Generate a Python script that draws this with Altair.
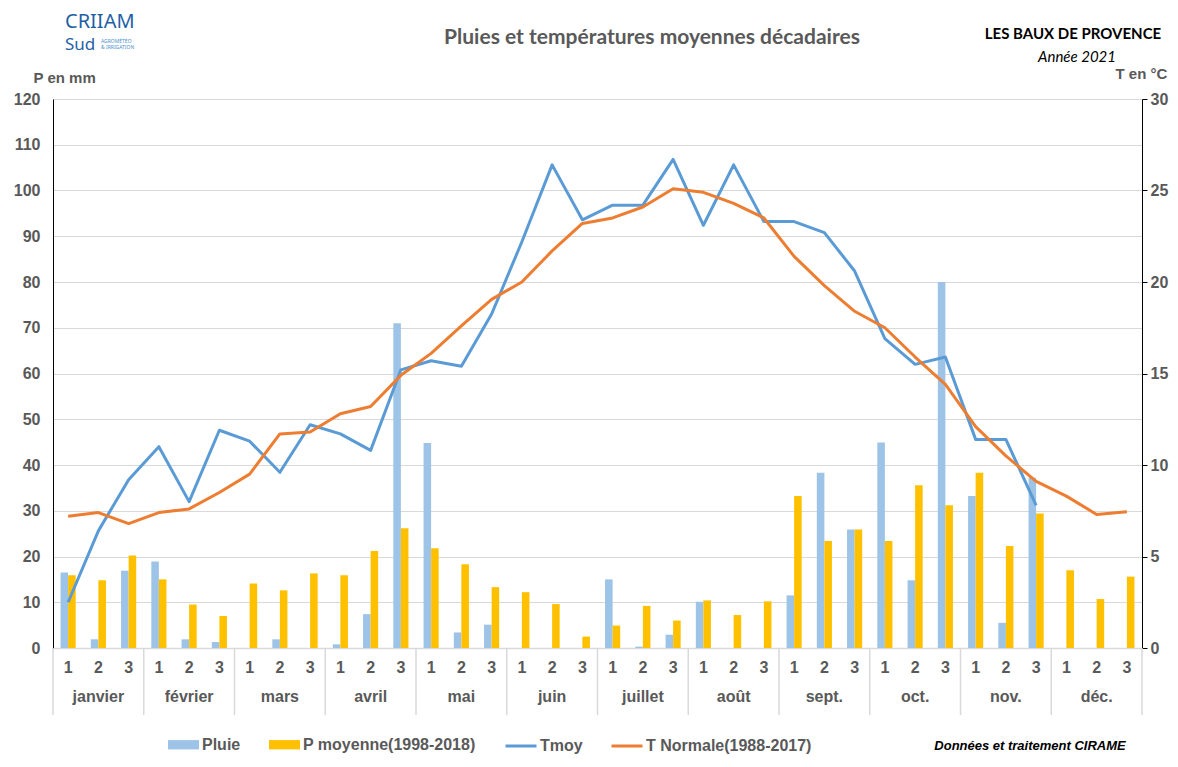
import altair as alt
import pandas as pd

# ---------------- data ----------------
months = ["janvier", "février", "mars", "avril", "mai", "juin",
          "juillet", "août", "sept.", "oct.", "nov.", "déc."]
decade_nums = ["1", "2", "3"]

pluie = [16.5, 1.9, 16.9, 18.9, 1.9, 1.3, 0.0, 1.9, 0.0, 0.8, 7.4, 71.0,
         44.8, 3.4, 5.1, 0.0, 0.0, 0.0, 15.0, 0.3, 2.9, 10.1, 0.0, 0.0,
         11.5, 38.3, 25.9, 44.9, 14.8, 80.0, 33.2, 5.5, 37.2, 0.0, 0.0, 0.0]
p_moy = [15.9, 14.8, 20.2, 15.0, 9.5, 7.0, 14.1, 12.6, 16.3, 15.9, 21.2, 26.2,
         21.8, 18.3, 13.3, 12.2, 9.6, 2.5, 4.9, 9.2, 6.0, 10.4, 7.2, 10.2,
         33.2, 23.4, 25.9, 23.4, 35.6, 31.2, 38.3, 22.3, 29.4, 17.0, 10.7, 15.6]
tmoy = [2.5, 6.4, 9.2, 11.0, 8.0, 11.9, 11.3, 9.6, 12.2, 11.7, 10.8, 15.2,
        15.7, 15.4, 18.25, 22.2, 26.4, 23.4, 24.2, 24.2, 26.7, 23.1, 26.4, 23.3,
        23.3, 22.7, 20.6, 16.9, 15.5, 15.9, 11.4, 11.4, 7.8, None, None, None]
t_norm = [7.2, 7.4, 6.8, 7.4, 7.6, 8.5, 9.5, 11.7, 11.8, 12.8, 13.2, 14.9,
          16.1, 17.6, 19.05, 20.0, 21.7, 23.2, 23.5, 24.1, 25.1, 24.9, 24.3, 23.5,
          21.4, 19.8, 18.4, 17.5, 15.9, 14.4, 12.1, 10.5, 9.1, 8.3, 7.3, 7.45]

bar_series = ["Pluie", "P moyenne(1998-2018)"]
line_series = ["Tmoy", "T Normale(1988-2017)"]
bar_colors = ["#9DC3E6", "#FFC000"]
line_colors = ["#5B9BD5", "#ED7D31"]

keys = [f"{m + 1:02d}-{d}" for m in range(12) for d in decade_nums]

bars_df = pd.DataFrame(
    [{"key": k, "series": bar_series[0], "value": v} for k, v in zip(keys, pluie)]
    + [{"key": k, "series": bar_series[1], "value": v} for k, v in zip(keys, p_moy)]
)
lines_df = pd.DataFrame(
    [{"key": k, "series": line_series[0], "value": v} for k, v in zip(keys, tmoy)]
    + [{"key": k, "series": line_series[1], "value": v} for k, v in zip(keys, t_norm)]
)
month_df = pd.DataFrame({"key": [f"{m + 1:02d}-2" for m in range(12)], "month": months})
sep_df = pd.DataFrame({"key": [f"{m + 1:02d}-1" for m in range(12)]})
sep_end_df = pd.DataFrame({"key": ["12-3"]})

W, H = 1089, 549
STEP = W / 36.0
GRAY = "#595959"
LIGHT = "#D9D9D9"
AX_FONT = "Liberation Sans"
TITLE_FONT = "Lato"

x_scale = alt.Scale(domain=keys, paddingInner=0.5, paddingOuter=0.25)

x_enc = alt.X(
    "key:O",
    scale=x_scale,
    sort=keys,
    axis=alt.Axis(
        title=None, labelExpr="slice(datum.value, -1)", labelAngle=0,
        ticks=False, labelPadding=11, labelFont=AX_FONT, labelFontSize=16,
        labelFontWeight="bold", labelColor=GRAY, domainColor=LIGHT, domainWidth=1.5,
        grid=False,
    ),
)

bars = alt.Chart(bars_df).mark_bar().encode(
    x=x_enc,
    xOffset=alt.XOffset("series:N", sort=bar_series, scale=alt.Scale(domain=bar_series)),
    y=alt.Y(
        "value:Q",
        scale=alt.Scale(domain=[0, 120]),
        axis=alt.Axis(
            values=list(range(0, 121, 10)), ticks=False, labelPadding=13,
            labelFont=AX_FONT, labelFontSize=16, labelFontWeight="bold", labelColor=GRAY,
            domainColor="#000000", domainWidth=1, gridColor=LIGHT, gridWidth=1.2,
            title="P en mm", titleAngle=0, titleX=-20, titleY=-22, titleAlign="left",
            titleBaseline="middle", titleFont=AX_FONT, titleFontSize=15,
            titleFontWeight="bold", titleColor=GRAY,
        ),
    ),
    color=alt.Color(
        "series:N",
        scale=alt.Scale(domain=bar_series, range=bar_colors),
        legend=alt.Legend(
            title=None, orient="none", legendX=115, legendY=630, direction="horizontal",
            symbolType="M-1,-0.3H1V0.3H-1Z", symbolSize=961, symbolStrokeWidth=0,
            labelFont=AX_FONT, labelFontSize=16, labelFontWeight="bold",
            labelColor=GRAY, labelOffset=3, columnPadding=28, labelLimit=400,
        ),
    ),
)

lines = alt.Chart(lines_df).mark_line(strokeWidth=3, strokeJoin="round").encode(
    x=alt.X("key:O", scale=x_scale, sort=keys),
    y=alt.Y(
        "value:Q",
        scale=alt.Scale(domain=[0, 30]),
        axis=alt.Axis(
            orient="right", values=list(range(0, 31, 5)), grid=False,
            tickColor="#000000", tickSize=5, domainColor="#000000", labelPadding=3,
            labelFont=AX_FONT, labelFontSize=16, labelFontWeight="bold", labelColor=GRAY,
            title="T en °C", titleAngle=0, titleX=-27, titleY=-26, titleAlign="left",
            titleBaseline="middle", titleFont=AX_FONT, titleFontSize=15,
            titleFontWeight="bold", titleColor=GRAY,
        ),
    ),
    stroke=alt.Stroke(
        "series:N",
        scale=alt.Scale(domain=line_series, range=line_colors),
        legend=alt.Legend(
            title=None, orient="none", legendX=451, legendY=630, direction="horizontal",
            symbolType="stroke", symbolSize=961, symbolStrokeWidth=3,
            labelFont=AX_FONT, labelFontSize=16, labelFontWeight="bold",
            labelColor=GRAY, labelOffset=2, columnPadding=22, labelLimit=400,
        ),
    ),
)

month_text = alt.Chart(month_df).mark_text(
    font=AX_FONT, fontSize=16, fontWeight="bold", color=GRAY, baseline="middle"
).encode(x=alt.X("key:O", scale=x_scale, sort=keys), y=alt.value(598), text="month:N")

seps = alt.Chart(sep_df).mark_rule(color=LIGHT, strokeWidth=1.5, xOffset=-STEP / 2).encode(
    x=alt.X("key:O", scale=x_scale, sort=keys), y=alt.value(H), y2=alt.value(616)
)
sep_end = alt.Chart(sep_end_df).mark_rule(color=LIGHT, strokeWidth=1.5, xOffset=STEP / 2).encode(
    x=alt.X("key:O", scale=x_scale, sort=keys), y=alt.value(H), y2=alt.value(616)
)

one = pd.DataFrame({"a": [0]})


def label(txt, x, y, **kw):
    return alt.Chart(one).mark_text(text=txt, **kw).encode(x=alt.value(x), y=alt.value(y))


title = label("Pluies et températures moyennes décadaires", 599, -61,
              font=TITLE_FONT, fontSize=21, fontWeight="bold", color=GRAY)
station = label("LES BAUX DE PROVENCE", 1020, -65,
                font=TITLE_FONT, fontSize=15, fontWeight="bold", color="#000000")
year = label("Année 2021", 1024, -42,
             font=TITLE_FONT, fontSize=15, fontStyle="italic", color="#000000")
credit = label("Données et traitement CIRAME", 977, 647,
               font=AX_FONT, fontSize=13, fontStyle="italic", fontWeight="bold", color="#000000")
logo1 = label("CRIIAM", 12, -77, font="Noto Sans", fontSize=20, color="#1F5FA6",
              align="left", baseline="middle")
logo2 = label("Sud", 12, -54, font="Noto Sans", fontSize=17, color="#1F5FA6",
              align="left", baseline="middle")
logo3 = label("AGROMÉTÉO", 48, -58, font="Noto Sans", fontSize=5, color="#4A90D0",
              align="left", baseline="middle")
logo4 = label("& IRRIGATION", 48, -52, font="Noto Sans", fontSize=5, color="#4A90D0",
              align="left", baseline="middle")

chart = alt.layer(
    bars, seps, sep_end, month_text, lines,
    title, station, year, credit, logo1, logo2, logo3, logo4,
).resolve_scale(
    y="independent"
).properties(
    width=W, height=H,
    autosize=alt.AutoSizeParams(type="none"),
    padding={"left": 45, "top": 91, "right": 28, "bottom": 110},
).configure_view(stroke=None)

chart.save("out.html", embed_options={"renderer": "svg", "actions": False})
